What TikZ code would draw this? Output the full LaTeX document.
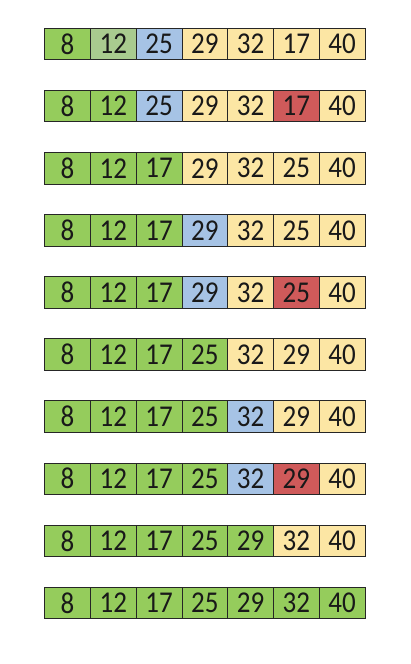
\documentclass[tikz,border=0pt]{standalone}
\usepackage{fontspec}
\setmainfont{Carlito}
\usepackage{tikz}

\definecolor{gr}{HTML}{95CC5C}
\definecolor{sg}{HTML}{A9CB8F}
\definecolor{bl}{HTML}{A6C3E5}
\definecolor{ye}{HTML}{FCE6A4}
\definecolor{rd}{HTML}{CF5A5A}

\begin{document}
\begin{tikzpicture}[x=1pt,y=-1pt]
	\tikzset{cell/.style = {draw=black!85,line width=0.9pt,minimum width=45.75pt,
	    minimum height=31.5pt,inner sep=0pt,text=black!90,font=\fontsize{27}{27}\selectfont}}
	\useasboundingbox (0,0) rectangle (411,664);

	% cells
	\foreach \r/\cells in {
	    1/{8/gr,12/sg,25/bl,29/ye,32/ye,17/ye,40/ye},
	    2/{8/gr,12/gr,25/bl,29/ye,32/ye,17/rd,40/ye},
	    3/{8/gr,12/gr,17/gr,29/ye,32/ye,25/ye,40/ye},
	    4/{8/gr,12/gr,17/gr,29/bl,32/ye,25/ye,40/ye},
	    5/{8/gr,12/gr,17/gr,29/bl,32/ye,25/rd,40/ye},
	    6/{8/gr,12/gr,17/gr,25/gr,32/ye,29/ye,40/ye},
	    7/{8/gr,12/gr,17/gr,25/gr,32/bl,29/ye,40/ye},
	    8/{8/gr,12/gr,17/gr,25/gr,32/bl,29/rd,40/ye},
	    9/{8/gr,12/gr,17/gr,25/gr,29/gr,32/ye,40/ye},
	    10/{8/gr,12/gr,17/gr,25/gr,29/gr,32/gr,40/gr}}
	  \foreach \v/\c [count=\i] in \cells
	    \node[cell,fill=\c] (c\r-\i) at ({44.7+45.75*(\i-0.5)},{44.05+62.1*(\r-1)})
	      {\scalebox{1}[1.12]{\v}};
\end{tikzpicture}
\end{document}
